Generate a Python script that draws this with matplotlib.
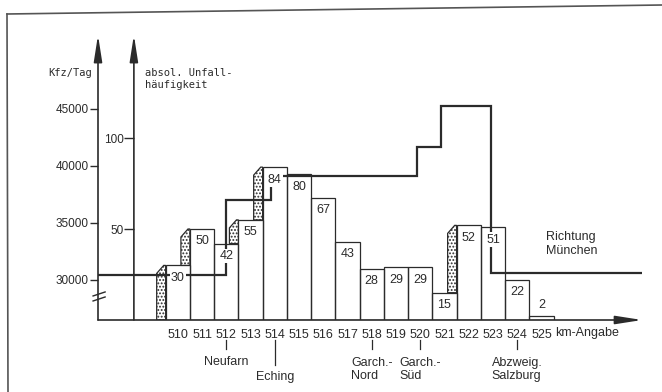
import matplotlib
matplotlib.use('Agg')
import matplotlib.pyplot as plt
import matplotlib.transforms as mtransforms
from matplotlib.patches import Polygon
from matplotlib.lines import Line2D

# ---------------- data ----------------
km = list(range(510, 526))
km_labels = [str(k) for k in km]
accidents = [30, 50, 42, 55, 84, 80, 67, 43, 28, 29, 29, 15, 52, 51, 22, 2]
kfz_edges = [512, 513.85, 519.85, 520.85, 522.9]
kfz_values = [30400, 37000, 39100, 41700, 45300, 30600]
kfz_ticks = [30000, 35000, 40000, 45000]
acc_ticks = [50, 100]
junctions = [512, 514, 518, 520, 524]
junction_names = ['Neufarn', 'Eching', 'Garch.-\nNord', 'Garch.-\nSüd', 'Abzweig.\nSalzburg']

# ---------------- style ----------------
C = '#2b2b2b'
plt.rcParams['font.family'] = ['Liberation Sans', 'DejaVu Sans']
plt.rcParams['hatch.linewidth'] = 0.9
plt.rcParams['hatch.color'] = C
MONO = ['DejaVu Sans Mono']
FS = 9

W, H = 662, 392
fig = plt.figure(figsize=(W / 100, H / 100), dpi=100)
fig.patch.set_facecolor('white')

XL = (506.71, 529.27)
X_END = 529.15
ACC_AXIS_X = 508.19

ax_k = fig.add_axes([98 / W, 72 / H, 547 / W, 285 / H])
ax_k.set_xlim(*XL)
ax_k.set_ylim(26491, 51491)
ax_a = ax_k.twinx()
ax_a.set_ylim(0, 156.6)
ax_k.patch.set_visible(False)
ax_a.patch.set_visible(False)
for ax in (ax_k, ax_a):
    for s in ax.spines.values():
        s.set_visible(False)

# Kfz axis ticks
ax_k.set_yticks(kfz_ticks)
ax_k.set_yticklabels([str(t) for t in kfz_ticks])
ax_k.tick_params(axis='y', direction='out', length=6, width=1.0, color=C,
                 labelcolor=C, labelsize=8.5, pad=0.5)
# km ticks
ax_k.set_xticks(km)
ax_k.set_xticklabels(km_labels)
ax_k.tick_params(axis='x', length=0, labelcolor=C, labelsize=FS, pad=6.5)

# accident axis ticks (moved to inner axis line)
ax_a.spines['left'].set_position(('data', ACC_AXIS_X))
ax_a.yaxis.set_ticks_position('left')
ax_a.set_yticks(acc_ticks)
ax_a.set_yticklabels([str(t) for t in acc_ticks])
ax_a.tick_params(axis='y', direction='out', length=7, width=1.0, color=C,
                 labelcolor=C, labelsize=8.5, pad=0.5)
ax_a.set_xlim(*XL)


def arrow(ax, p0, p1, coords):
    ax.annotate('', xy=p1, xytext=p0, xycoords=coords, textcoords=coords,
                arrowprops=dict(arrowstyle='-|>,head_length=1.6,head_width=0.25',
                                color=C, lw=1.2, shrinkA=0, shrinkB=0,
                                mutation_scale=10),
                annotation_clip=False)


arrow(ax_k, (0, 0), (0, 1), 'axes fraction')
arrow(ax_a, (ACC_AXIS_X, 0), (ACC_AXIS_X, 1), ('data', 'axes fraction'))
arrow(ax_a, (XL[0], 0), (X_END, 0), ('data', 'axes fraction'))

# axis break mark on Kfz axis
tb = mtransforms.blended_transform_factory(ax_k.transAxes, ax_k.transData)
for y0 in (28160, 28600):
    ax_k.plot([-0.009, 0.013], [y0, y0 + 350], color=C, lw=1.0,
              transform=tb, clip_on=False)

# bars
ax_a.bar(km, accidents, width=1.0, facecolor='none', edgecolor=C,
         linewidth=0.9, zorder=2)

# dotted side faces where the count rises noticeably
SW = 0.37
for i, (k, v) in enumerate(zip(km, accidents)):
    prev = accidents[i - 1] if i > 0 else 0
    if v - prev > 5:
        xl = k - 0.5
        pts = [(xl - SW, prev), (xl - SW, v - 4.4), (xl - 0.08, v), (xl, v), (xl, prev)]
        ax_a.add_patch(Polygon(pts, closed=True, facecolor='white', edgecolor=C,
                               linewidth=0.9, hatch='.....', zorder=2))

# traffic volume step line
ax_a.stairs(kfz_values, [XL[0]] + kfz_edges + [X_END], baseline=None,
            transform=ax_k.transData, color=C, linewidth=1.6, zorder=4)

# bar labels
for k, v in zip(km, accidents):
    y = v - 6.8 if v > 10 else v + 6.5
    ax_a.text(k, y, str(v), ha='center', va='center', fontsize=FS, color=C,
              zorder=6, bbox=dict(facecolor='white', edgecolor='none', pad=0.8))

# junction annotations
tx = mtransforms.blended_transform_factory(ax_a.transData, ax_a.transAxes)
for k, name in zip(junctions, junction_names):
    long = (name == 'Eching')
    y1 = -0.158 if long else -0.1018
    ax_a.plot([k, k], [-0.0702, y1], color=C, lw=0.9, transform=tx, clip_on=False)
    ty = -0.2 if long else (-0.147 if '\n' not in name else -0.1737)
    ax_a.text(k, ty, name, transform=tx, ha='center', va='center',
              multialignment='left', fontsize=FS, color=C, linespacing=1.1)

ax_a.text(525.55, -0.0456, 'km-Angabe', transform=tx, ha='left', va='center',
          fontsize=FS, color=C)
ax_a.text(525.19, 41.8, 'Richtung\nMünchen', ha='left', va='center',
          fontsize=FS, color=C, linespacing=1.2)

# axis titles
fig.text(48 / W, 1 - 73 / H, 'Kfz/Tag', family=MONO, fontsize=7.5, color=C,
         ha='left', va='center')
fig.text(145 / W, 1 - 79 / H, 'absol. Unfall-\nhäufigkeit', family=MONO,
         fontsize=7.5, color=C, ha='left', va='center', linespacing=1.35)

# page frame
fig.add_artist(Line2D([7 / W, 1], [1 - 14 / H, 1 - 5 / H], transform=fig.transFigure,
                      color='#555555', lw=1.2))
fig.add_artist(Line2D([7 / W, 8 / W], [1 - 14 / H, 0], transform=fig.transFigure,
                      color='#555555', lw=1.2))

fig.savefig('out.png', dpi=100, facecolor='white')
